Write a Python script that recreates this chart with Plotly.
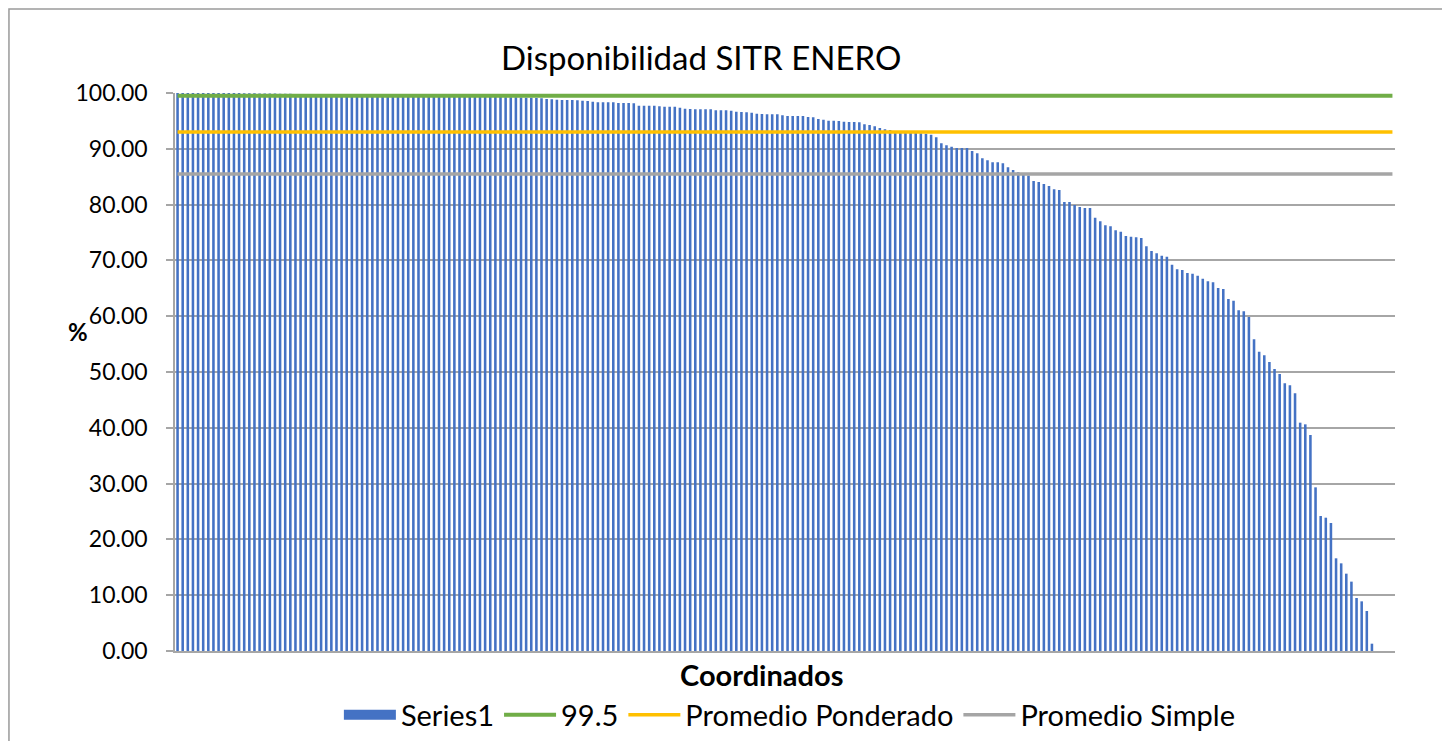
import plotly.graph_objects as go

# ---------------- data ----------------
values = [
    # top group (~100)
    100.00, 100.00, 100.00, 100.00, 100.00, 100.00, 100.00, 100.00, 100.00, 100.00,
    100.00, 100.00, 99.98, 99.97, 99.95, 99.94, 99.93, 99.92, 99.90, 99.89,
    99.88, 99.86, 99.85, 99.84, 99.83, 99.82, 99.81, 99.80, 99.79, 99.78,
    99.77, 99.76, 99.75, 99.74, 99.73, 99.72, 99.71, 99.70, 99.69, 99.68,
    99.67, 99.66, 99.65, 99.64, 99.63,
    99.62, 99.61,
    99.60, 99.58, 99.56, 99.54, 99.52, 99.50, 99.48, 99.46, 99.44, 99.42,
    99.40, 99.38, 99.36, 99.34, 99.32, 99.30, 99.28, 99.26, 99.24, 99.22,
    99.20, 99.17, 99.14, 99.10, 99.05,
    98.92, 98.87, 98.81, 98.75, 98.75, 98.75, 98.69, 98.63, 98.57, 98.45,
    98.33, 98.33, 98.33, 98.33, 98.21, 98.21, 98.21, 98.15,
    97.73, 97.73, 97.73, 97.73, 97.61, 97.55, 97.55, 97.55, 97.37, 97.19,
    97.13, 97.07, 97.07, 97.07, 97.07, 96.89, 96.89, 96.89, 96.83, 96.65,
    96.59, 96.54, 96.48, 96.30, 96.24, 96.18, 96.18, 96.18, 96.00, 95.88,
    95.88, 95.88, 95.88, 95.70, 95.64, 95.34, 95.22, 95.04, 95.04, 94.98,
    94.86, 94.80, 94.80, 94.74, 94.38, 94.27, 94.03, 93.73, 93.49,
    93.37, 93.20, 93.10, 93.00, 93.00, 92.90, 92.80, 92.70, 92.50, 92.06,
    90.98, 90.62, 90.38, 90.14, 90.14, 90.14, 89.61, 89.19, 88.29, 87.93,
    87.57, 87.57, 87.40, 86.68, 86.20, 85.80, 85.60, 85.20, 84.23, 84.05,
    83.69, 83.33, 82.74, 82.62, 80.47, 80.47, 79.93, 79.57, 79.39, 79.39,
    77.66, 77.00, 76.28, 76.11, 75.39, 75.15, 74.37,
    74.25, 74.13, 74.01, 72.53,
    71.68, 71.27, 70.85, 70.67, 69.24, 68.40, 68.28, 67.74, 67.62, 67.26,
    66.73, 66.25, 66.07, 65.05, 64.87, 63.08, 62.78, 61.05, 60.87, 59.86,
    55.85, 53.64, 52.99, 51.79, 50.54, 49.64, 47.97, 47.61, 46.18,
    40.92, 40.62, 38.71, 29.33, 24.19, 23.89, 22.94, 16.61, 15.71, 13.86,
    12.43, 9.50, 8.90, 7.17, 1.31,
    0.00, 0.00, 0.00, 0.00,
]
categories = list(range(1, len(values) + 1))

ref_995 = 99.5
promedio_ponderado = 93.0
promedio_simple = 85.5

y_ticks = [0, 10, 20, 30, 40, 50, 60, 70, 80, 90, 100]

FONT = "Lato"
GRID = "#A6A6A6"
BLUE = "#4472C4"

fig = go.Figure()
# legend proxy for the bar series (wide swatch like the original legend)
fig.add_trace(go.Scatter(x=[None], y=[None], mode="lines", name="Series1",
                         line=dict(color=BLUE, width=17), hoverinfo="skip"))
fig.add_trace(go.Bar(x=categories, y=values, name="Series1", showlegend=False,
                     marker=dict(color=BLUE, line=dict(width=0))))
fig.add_trace(go.Scatter(x=[categories[0], categories[-1]], y=[ref_995, ref_995],
                         mode="lines", name="99.5",
                         line=dict(color="#70AD47", width=4)))
fig.add_trace(go.Scatter(x=[categories[0], categories[-1]],
                         y=[promedio_ponderado, promedio_ponderado],
                         mode="lines", name="Promedio Ponderado",
                         line=dict(color="#FFC000", width=3.5)))
fig.add_trace(go.Scatter(x=[categories[0], categories[-1]],
                         y=[promedio_simple, promedio_simple],
                         mode="lines", name="Promedio Simple",
                         line=dict(color="#A5A5A5", width=3.5)))

fig.update_layout(
    width=1442, height=733,
    margin=dict(l=167, r=55, t=85, b=90),
    paper_bgcolor="white", plot_bgcolor="white",
    font=dict(family=FONT, color="#000000"),
    bargap=0.5,
    showlegend=True,
    legend=dict(orientation="h", xref="paper", x=0.504, xanchor="center",
                yref="container", y=0.0355, yanchor="middle",
                font=dict(family=FONT, size=29, color="#000000"),
                itemwidth=52, traceorder="normal", bgcolor="rgba(0,0,0,0)"),
    xaxis=dict(type="category", showticklabels=False, ticks="", showgrid=False,
               showline=True, linecolor=GRID, linewidth=1.5, zeroline=False),
    yaxis=dict(range=[0, 100], tickvals=y_ticks, tickformat=".2f",
               ticks="outside", ticklen=7, tickcolor=GRID, tickwidth=1.5,
               ticklabelstandoff=14,
               tickfont=dict(family=FONT, size=23, color="#000000"),
               showgrid=True, gridcolor=GRID, gridwidth=1.5,
               showline=True, linecolor=GRID, linewidth=1.5, zeroline=False),
    annotations=[
        dict(text="Disponibilidad SITR ENERO", xref="paper", yref="paper",
             x=0.431, y=1.0645, xanchor="center", yanchor="middle", showarrow=False,
             font=dict(family=FONT, size=33, color="#000000")),
        dict(text="<b>Coordinados</b>", xref="paper", yref="paper",
             x=0.481, y=-0.043, xanchor="center", yanchor="middle", showarrow=False,
             font=dict(family=FONT, size=29, color="#000000")),
        dict(text="<b>%</b>", xref="paper", yref="paper",
             x=-0.0795, y=0.572, xanchor="center", yanchor="middle", showarrow=False,
             font=dict(family=FONT, size=24, color="#000000")),
    ],
    shapes=[
        dict(type="rect", xref="paper", yref="paper",
             x0=-0.1361, x1=1.0393, y0=-0.25, y1=1.1505,
             line=dict(color="#9A9A9A", width=1.5), fillcolor="rgba(0,0,0,0)",
             layer="below"),
    ],
)

fig.write_html("out.html")
